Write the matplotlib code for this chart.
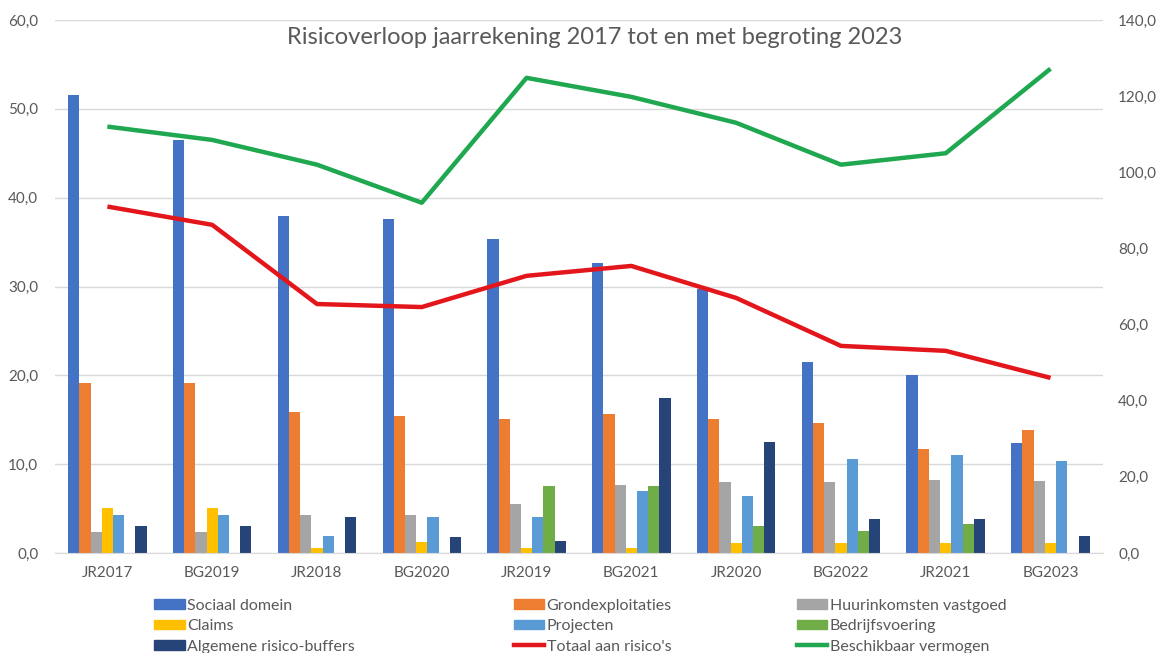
import matplotlib
matplotlib.use("Agg")
import matplotlib.pyplot as plt
import numpy as np
from matplotlib.patches import Patch
from matplotlib.lines import Line2D

categories = ["JR2017", "BG2019", "JR2018", "BG2020", "JR2019", "BG2021", "JR2020", "BG2022", "JR2021", "BG2023"]

sociaal_domein = [51.5, 46.5, 37.9, 37.6, 35.3, 32.7, 29.7, 21.5, 20.0, 12.4]
grondexploitaties = [19.1, 19.1, 15.9, 15.4, 15.1, 15.7, 15.1, 14.6, 11.7, 13.8]
huurinkomsten = [2.4, 2.4, 4.3, 4.3, 5.5, 7.7, 8.0, 8.0, 8.2, 8.1]
claims = [5.1, 5.1, 0.6, 1.2, 0.6, 0.6, 1.1, 1.1, 1.1, 1.1]
projecten = [4.3, 4.3, 1.9, 4.0, 4.0, 7.0, 6.4, 10.6, 11.0, 10.4]
bedrijfsvoering = [0.0, 0.0, 0.0, 0.0, 7.5, 7.5, 3.0, 2.5, 3.3, 0.0]
algemene_buffers = [3.0, 3.0, 4.1, 1.8, 1.4, 17.5, 12.5, 3.8, 3.8, 1.9]

totaal_risicos = [91.0, 86.2, 65.4, 64.6, 72.8, 75.4, 67.0, 54.4, 53.1, 46.0]
beschikbaar_vermogen = [112.0, 108.5, 102.0, 92.0, 124.8, 119.8, 113.0, 102.0, 105.0, 127.2]

left_ticks = [0, 10, 20, 30, 40, 50, 60]
right_ticks = [0, 20, 40, 60, 80, 100, 120, 140]

bar_series = [
    ("Sociaal domein", sociaal_domein, "#4472C4"),
    ("Grondexploitaties", grondexploitaties, "#ED7D31"),
    ("Huurinkomsten vastgoed", huurinkomsten, "#A5A5A5"),
    ("Claims", claims, "#FFC000"),
    ("Projecten", projecten, "#5B9BD5"),
    ("Bedrijfsvoering", bedrijfsvoering, "#70AD47"),
    ("Algemene risico-buffers", algemene_buffers, "#264478"),
]
line_series = [
    ("Totaal aan risico's", totaal_risicos, "#E3161B"),
    ("Beschikbaar vermogen", beschikbaar_vermogen, "#1FA84F"),
]

plt.rcParams['font.family'] = ['Lato', 'DejaVu Sans']
txt = "#595959"

fig = plt.figure(figsize=(11.6, 6.53), dpi=100)
ax = fig.add_axes([0.0474, 0.1531, 0.9034, 0.8163])
x = np.arange(len(categories))
n = len(bar_series)
w = 0.107
for k, (name, vals, col) in enumerate(bar_series):
    ax.bar(x + (k - (n - 1) / 2) * w, vals, width=w, color=col, label=name, zorder=2)

ax.set_xlim(-0.5, len(categories) - 0.5)
ax.set_ylim(0, 60)
ax.set_yticks(left_ticks)
ax.set_yticklabels([f"{v:.1f}".replace(".", ",") for v in left_ticks])
ax.set_xticks(x)
ax.set_xticklabels(categories)
ax.grid(axis="y", color="#D9D9D9", linewidth=1, zorder=0)
ax.set_axisbelow(True)
for s in ["top", "right", "left"]:
    ax.spines[s].set_visible(False)
ax.spines["bottom"].set_color("#D9D9D9")
ax.tick_params(axis="both", length=0, colors=txt, labelsize=11)
ax.tick_params(axis="x", pad=9)
ax.tick_params(axis="y", pad=12)

ax2 = ax.twinx()
for name, vals, col in line_series:
    ax2.plot(x, vals, color=col, linewidth=3.2, label=name, zorder=3, solid_capstyle="butt")
ax2.set_ylim(0, 140)
ax2.set_yticks(right_ticks)
ax2.set_yticklabels([f"{v:.1f}".replace(".", ",") for v in right_ticks])
for s in ["top", "right", "left", "bottom"]:
    ax2.spines[s].set_visible(False)
ax2.tick_params(axis="y", length=0, colors=txt, labelsize=11, pad=11)

fig.text(0.513, 0.942, "Risicoverloop jaarrekening 2017 tot en met begroting 2023",
         ha="center", va="center", fontsize=17, color=txt)

def handle(item, is_line):
    name, vals, col = item
    if is_line:
        return Line2D([0], [0], color=col, linewidth=3.2)
    return Patch(facecolor=col, edgecolor=col)

columns = [
    [(bar_series[0], False), (bar_series[3], False), (bar_series[6], False)],
    [(bar_series[1], False), (bar_series[4], False), (line_series[0], True)],
    [(bar_series[2], False), (bar_series[5], False), (line_series[1], True)],
]
col_x = [0.133, 0.443, 0.687]
for cx, items in zip(col_x, columns):
    hs = [handle(it, l) for it, l in items]
    labels = [it[0] for it, l in items]
    leg = fig.legend(hs, labels, loc="upper left", bbox_to_anchor=(cx, 0.083),
                     frameon=False, fontsize=11.5, handlelength=1.9, handleheight=0.55,
                     handletextpad=0.15, labelspacing=0.4, borderpad=0, borderaxespad=0)
    for t in leg.get_texts():
        t.set_color(txt)

fig.savefig("out.png", dpi=100)
